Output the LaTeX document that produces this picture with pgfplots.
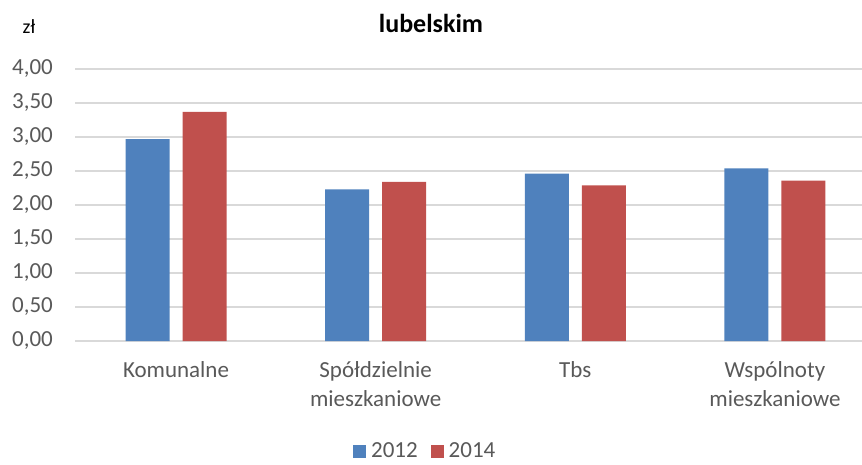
\documentclass[border=0pt]{standalone}
\usepackage{fontspec}
\setmainfont{Carlito}
\usepackage{pgfplots}
\pgfplotsset{compat=1.18}

\definecolor{blu}{HTML}{4F81BD}
\definecolor{rd}{HTML}{C0504D}
\definecolor{grd}{HTML}{D9D9D9}
\definecolor{txt}{HTML}{595959}

\begin{document}
\begin{tikzpicture}[x=1pt,y=1pt]
\useasboundingbox (0,0) rectangle (862,464);
\node[font=\fontsize{26}{30}\selectfont\bfseries, text=black] at (431,441) {lubelskim};
\node[font=\fontsize{20}{24}\selectfont, text=black] at (29,437) {zł};
\begin{axis}[
  at={(75pt,123pt)}, anchor=south west,
  scale only axis, width=787pt, height=272pt,
  ybar,
  xmin=-0.506, xmax=3.436, ymin=0, ymax=4,
  ytick distance=0.5,
  xtick={0,1,2,3},
  xticklabels={Komunalne,{Spółdzielnie\\mieszkaniowe},Tbs,{Wspólnoty\\mieszkaniowe}},
  axis line style={draw=none},
  major tick length=0pt,
  ymajorgrids, grid style={grd, line width=1.2pt},
  tick label style={font=\fontsize{23}{29}\selectfont, text=txt},
  yticklabel style={inner sep=0pt, xshift=-22pt,
    /pgf/number format/.cd, fixed, fixed zerofill, precision=2, use comma, assume math mode=true},
  xticklabel style={align=center, inner sep=0pt, yshift=-20pt},
  legend style={at={(0.445,-0.405)}, anchor=center, draw=none, legend columns=2,
    font=\fontsize{23}{27}\selectfont, text=txt, inner sep=1pt,
    /tikz/every even column/.append style={column sep=11pt}},
  legend image code/.code={\fill[#1] (0pt,-6.5pt) rectangle (13pt,6.5pt);},
]
\addplot[fill=blu, draw=none, bar width=44pt, bar shift=-28.5pt] coordinates
  {(0,2.97) (1,2.23) (2,2.46) (3,2.54)};
\addplot[fill=rd, draw=none, bar width=44pt, bar shift=28.5pt] coordinates
  {(0,3.37) (1,2.34) (2,2.29) (3,2.36)};
\legend{\hspace{3pt}2012,\hspace{3pt}2014}
\end{axis}
\end{tikzpicture}
\end{document}
